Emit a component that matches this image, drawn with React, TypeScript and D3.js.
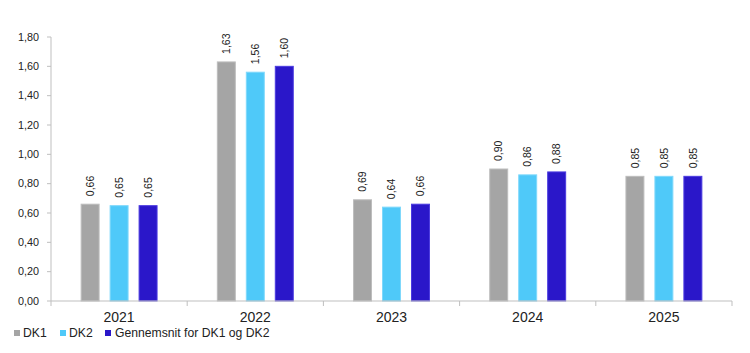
import React from 'react'
import * as d3 from 'd3'

const years = ['2021', '2022', '2023', '2024', '2025']
const seriesNames = ['DK1', 'DK2', 'Gennemsnit for DK1 og DK2']
const dk1 = [0.66, 1.63, 0.69, 0.9, 0.85]
const dk2 = [0.65, 1.56, 0.64, 0.86, 0.85]
const avg = [0.65, 1.6, 0.66, 0.88, 0.85]
const yTicks = [0, 0.2, 0.4, 0.6, 0.8, 1.0, 1.2, 1.4, 1.6, 1.8]

const colors = ['#A5A5A5', '#4FC9F9', '#2A17C9']
const strokes = ['#BDBDBD', '#7FD8FB', '#4A3AE0']

const fmt = (v: number) => v.toFixed(2).replace('.', ',')

const App: React.FC = () => {
  const W = 750
  const H = 353
  const left = 51
  const right = 732
  const top = 37
  const bottom = 301

  const values = [dk1, dk2, avg]

  const x0 = d3.scaleBand<string>().domain(years).range([left, right]).padding(0)
  const x1 = d3
    .scaleBand<string>()
    .domain(seriesNames)
    .range([0, x0.bandwidth()])
    .paddingInner(0.38)
    .paddingOuter(1.04)
  const y = d3.scaleLinear().domain([0, 1.8]).range([bottom, top])

  const font = 'Liberation Sans, Arial, sans-serif'
  const axisColor = '#BFBFBF'

  // legend layout
  const legend = [
    { sq: 14, tx: 23 },
    { sq: 60, tx: 69 },
    { sq: 105, tx: 115 },
  ]

  return (
    <svg width={W} height={H} style={{ position: 'absolute', left: 0, top: 0 }} fontFamily={font}>
      <rect width={W} height={H} fill="#fff" />
      {/* y axis */}
      <line x1={left} x2={left} y1={top} y2={bottom} stroke={axisColor} />
      {yTicks.map(t => (
        <g key={t}>
          <line x1={left - 4} x2={left} y1={y(t)} y2={y(t)} stroke={axisColor} />
          <text x={39} y={y(t)} dy="0.35em" textAnchor="end" fontSize={10.8} fill="#222">
            {fmt(t)}
          </text>
        </g>
      ))}
      {/* bars */}
      {years.map((yr, i) => (
        <g key={yr} transform={`translate(${x0(yr)},0)`}>
          {seriesNames.map((s, j) => {
            const v = values[j][i]
            const bx = x1(s) as number
            const bw = x1.bandwidth()
            return (
              <g key={s}>
                <rect
                  x={bx}
                  y={y(v)}
                  width={bw}
                  height={bottom - y(v)}
                  fill={colors[j]}
                  stroke={strokes[j]}
                  strokeWidth={1}
                />
                <text
                  transform={`translate(${bx + bw / 2},${y(v) - 8}) rotate(-90)`}
                  dy="0.35em"
                  textAnchor="start"
                  fontSize={10.5}
                  fill="#222"
                >
                  {fmt(v)}
                </text>
              </g>
            )
          })}
          <text
            x={x0.bandwidth() / 2}
            y={317}
            dy="0.35em"
            textAnchor="middle"
            fontSize={14}
            fill="#222"
          >
            {yr}
          </text>
        </g>
      ))}
      {/* x axis */}
      <line x1={left} x2={right} y1={bottom} y2={bottom} stroke={axisColor} />
      {[...years.map(yr => x0(yr) as number), right].map((p, k) => (
        <line key={k} x1={p} x2={p} y1={bottom} y2={bottom + 5} stroke={axisColor} />
      ))}
      {/* legend */}
      {seriesNames.map((s, j) => (
        <g key={s}>
          <rect x={legend[j].sq} y={330} width={6} height={6} fill={colors[j]} />
          <text x={legend[j].tx} y={333} dy="0.35em" fontSize={12.2} fill="#222">
            {s}
          </text>
        </g>
      ))}
    </svg>
  )
}

export default App
